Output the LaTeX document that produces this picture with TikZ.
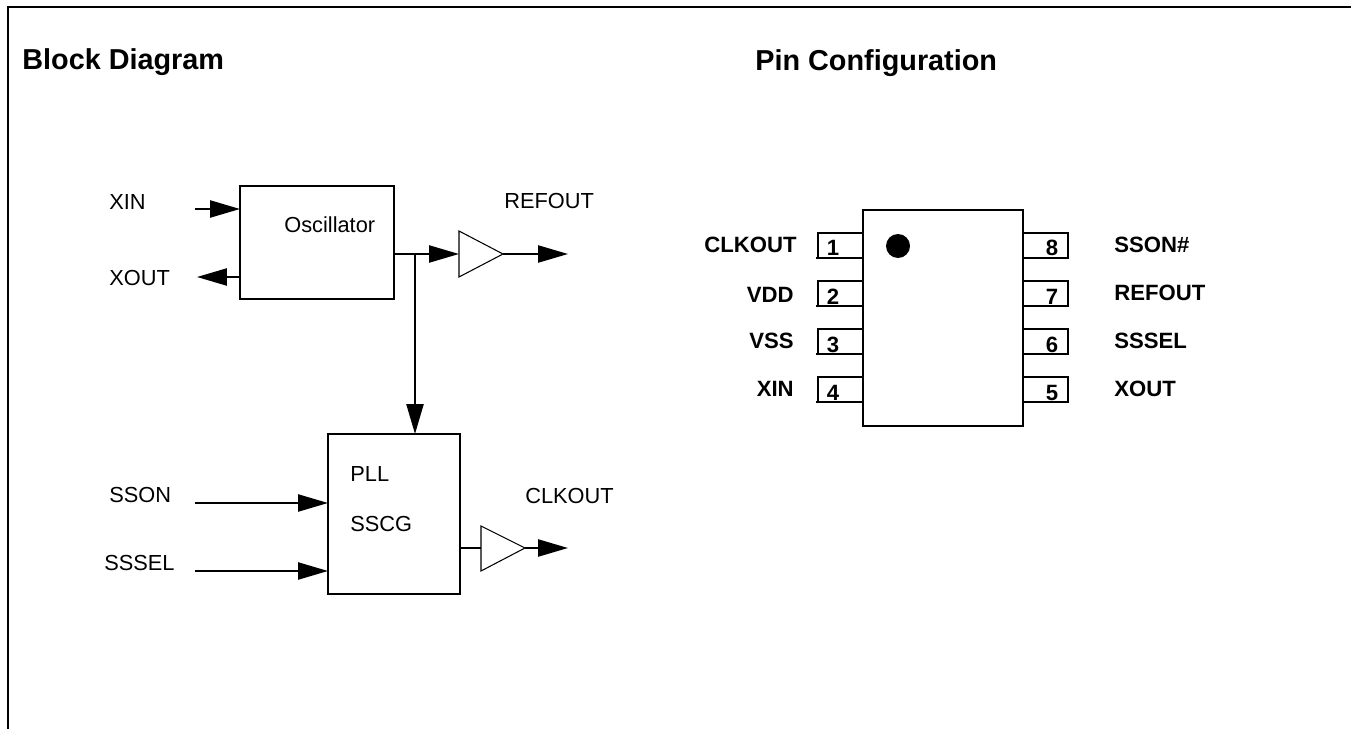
\documentclass[tikz,border=0pt]{standalone}
\usepackage{fontspec}
\setmainfont{Liberation Sans}
\usetikzlibrary{arrows.meta}

\tikzset{
 >={Triangle[length=17pt,width=9.7pt]},
 wire/.style = {line width=1.1pt},
 blockbox/.style = {draw, line width=1.1pt, inner sep=0pt, outer sep=0pt, minimum width=#1},
 buffer/.style = {line width=0.6pt},
 sigtext/.style = {anchor=base west, inner sep=0pt, font=\fontsize{12.4pt}{14pt}\selectfont},
 pintext/.style = {inner sep=0pt, font=\bfseries\fontsize{12.6pt}{14pt}\selectfont},
 titletext/.style = {anchor=base west, inner sep=0pt, font=\bfseries\fontsize{16.4pt}{18pt}\selectfont}
}

\begin{document}
\begin{tikzpicture}[x=0.02cm,y=-0.02cm]
 \useasboundingbox (0,0) rectangle (1351,729);
 \coordinate (framebot) at (8,729);
 \coordinate (framecorner) at (8,7);
 \coordinate (frameend) at (1351,7);
 \draw [line width=1.2pt](framebot) -- (framecorner) -- (frameend);
 \node[titletext] (blocktitle) at (22,70) {Block Diagram};
 \node[titletext] (pintitle) at (755,71) {Pin Configuration};

 % block diagram
 \node[blockbox=3.08cm, minimum height=2.26cm] (osc) at (317,242.5) {};
 \node[blockbox=2.64cm, minimum height=3.2cm] (pll) at (394,514) {};
 \node[sigtext] (osctext) at (284,233) {Oscillator};
 \node[sigtext] (plltext) at (350,481) {PLL};
 \node[sigtext] (sscgtext) at (350,531) {SSCG};
 \node[sigtext] (xintext) at (109,210) {XIN};
 \node[sigtext] (xouttext) at (109,286) {XOUT};
 \node[sigtext] (refouttext) at (504,209) {REFOUT};
 \node[sigtext] (ssontext) at (109,502) {SSON};
 \node[sigtext] (sseltext) at (104,570) {SSSEL};
 \node[sigtext] (clkouttext) at (525,503) {CLKOUT};

 \coordinate (xinend) at (195,209);
 \coordinate (xoutend) at (197,277);
 \coordinate (ssonend) at (195,503);
 \coordinate (sselend) at (195,571);
 \coordinate (oscout) at (394,254);
 \coordinate (branch) at (415,254);
 \coordinate (refin) at (459,254);
 \coordinate (refbuf) at (503,254);
 \coordinate (refend) at (568,254);
 \coordinate (pllout) at (460,548);
 \coordinate (clkin) at (481,548);
 \coordinate (clkbuf) at (525,548);
 \coordinate (clkend) at (568,548);

 \draw[buffer] (refin |- 0,231) -- (refbuf) -- (refin |- 0,277) -- cycle;
 \draw[buffer] (clkin |- 0,526) -- (clkbuf) -- (clkin |- 0,571) -- cycle;

 \draw[wire,->] (xinend) -- (osc.west |- xinend);
 \draw[wire,->] (osc.west |- xoutend) -- (xoutend);
 \draw[wire,->] (oscout) -- (refin);
 \draw[wire,->] (refbuf) -- (refend);
 \draw[wire,->] (branch) -- (branch |- pll.north);
 \draw[wire,->] (ssonend) -- (pll.west |- ssonend);
 \draw[wire,->] (sselend) -- (pll.west |- sselend);
 \draw[wire] (pllout) -- (clkin);
 \draw[wire,->] (clkbuf) -- (clkend);

 % pin configuration
 \node[blockbox=3.2cm, minimum height=4.32cm] (chip) at (943,318) {};
 \node[circle, fill=black, inner sep=0pt, minimum size=0.48cm] (dot) at (898,246) {};
 \foreach \num/\ypos/\xname/\yname/\name in {1/245.5/797/252.5/CLKOUT,2/293.5/794/302/VDD,3/341.5/794/348/VSS,4/389.5/794/396.5/XIN}{
  \node[blockbox=0.9cm, minimum height=0.5cm] (pin\num) at (840.5,\ypos) {};
  \draw[wire] (pin\num.south west) -- ++(-2,0);
  \node[pintext, anchor=base] (num\num) at (833,\ypos+10.5) {\num};
  \node[pintext, anchor=base east] (name\num) at (\xname,\yname) {\name};
 }
 \foreach \num/\ypos/\yname/\name in {8/245.5/252.5/SSON\#,7/293.5/300/REFOUT,6/341.5/348/SSSEL,5/389.5/396.5/XOUT}{
  \node[blockbox=0.9cm, minimum height=0.5cm] (pin\num) at (1045.5,\ypos) {};
  \node[pintext, anchor=base] (num\num) at (1052,\ypos+10.5) {\num};
  \node[pintext, anchor=base west] (name\num) at (1114,\yname) {\name};
 }
\end{tikzpicture}
\end{document}
